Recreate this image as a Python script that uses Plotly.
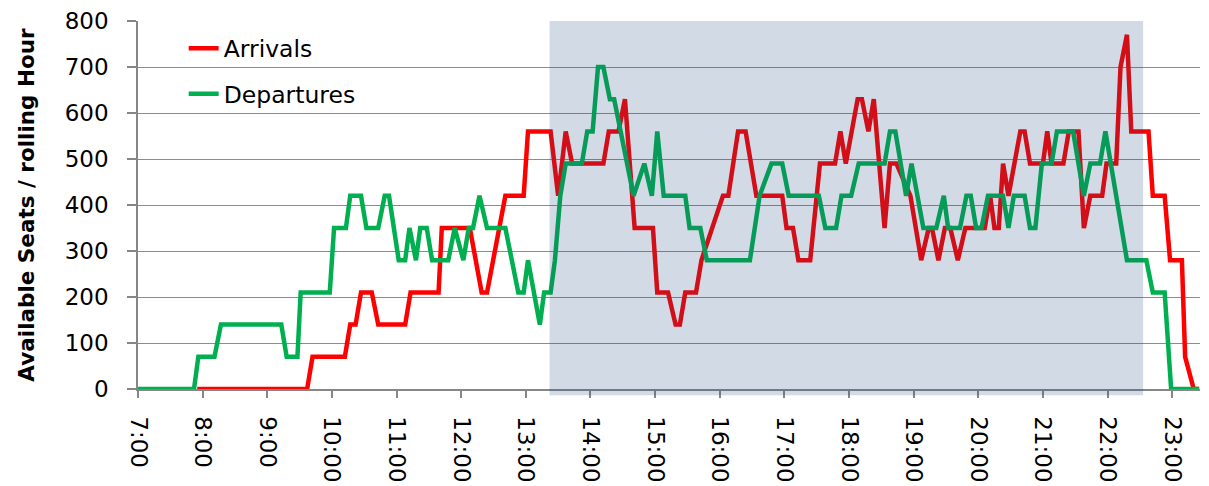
import plotly.graph_objects as go

# ---------------- data ----------------
arr_times = ["7:55", "9:37", "9:42", "10:12", "10:17", "10:22", "10:27", "10:37", "10:43", "11:08",
             "11:13", "11:39", "11:42", "12:08", "12:19", "12:24", "12:41", "12:58", "13:02", "13:23",
             "13:30", "13:37", "13:43", "14:12", "14:17", "14:26", "14:32", "14:41", "14:58", "15:02",
             "15:12", "15:19", "15:23", "15:28", "15:38", "15:43", "16:03", "16:08", "16:17", "16:24",
             "16:34", "16:58", "17:02", "17:08", "17:13", "17:24", "17:33", "17:47", "17:52", "17:57",
             "18:08", "18:12", "18:18", "18:23", "18:33", "18:38", "18:44", "18:57", "19:07", "19:14",
             "19:17", "19:23", "19:29", "19:34", "19:41", "19:48", "20:06", "20:11", "20:15", "20:19",
             "20:23", "20:28", "20:39", "20:43", "20:48", "21:00", "21:04", "21:08", "21:19", "21:24",
             "21:33", "21:38", "21:44", "21:55", "21:59", "22:08", "22:12", "22:18", "22:22", "22:38",
             "22:42", "22:53", "22:58", "23:09", "23:12", "23:20", "23:25"]
arr_values = [0, 0, 70, 70, 140, 140, 210, 210, 140, 140,
              210, 210, 350, 350, 210, 210, 420, 420, 560, 560,
              420, 560, 490, 490, 560, 560, 630, 350, 350, 210,
              210, 140, 140, 210, 210, 280, 420, 420, 560, 560,
              420, 420, 350, 350, 280, 280, 490, 490, 560, 490,
              630, 630, 560, 630, 350, 490, 490, 420, 280, 350,
              350, 280, 350, 350, 280, 350, 350, 420, 350, 350,
              490, 420, 560, 560, 490, 490, 560, 490, 490, 560,
              560, 350, 420, 420, 490, 490, 700, 770, 560, 560,
              420, 420, 280, 280, 70, 0, 0]

dep_times = ["7:00", "7:52", "7:56", "8:11", "8:17", "9:13", "9:18", "9:28", "9:31", "9:58",
             "10:02", "10:13", "10:17", "10:27", "10:32", "10:43", "10:49", "10:53", "11:02", "11:08",
             "11:12", "11:18", "11:22", "11:28", "11:33", "11:48", "11:54", "12:02", "12:07", "12:11",
             "12:17", "12:24", "12:41", "12:53", "12:58", "13:02", "13:13", "13:17", "13:23", "13:27",
             "13:32", "13:37", "13:52", "13:57", "14:02", "14:07", "14:12", "14:18", "14:22", "14:40",
             "14:50", "14:57", "15:02", "15:08", "15:28", "15:32", "15:42", "15:48", "16:28", "16:37",
             "16:48", "16:58", "17:04", "17:32", "17:38", "17:48", "17:53", "18:02", "18:09", "18:33",
             "18:38", "18:43", "18:53", "18:58", "19:09", "19:21", "19:28", "19:32", "19:43", "19:49",
             "19:53", "19:58", "20:03", "20:09", "20:23", "20:28", "20:33", "20:43", "20:48", "20:53",
             "20:59", "21:08", "21:13", "21:28", "21:38", "21:44", "21:53", "21:58", "22:18", "22:36",
             "22:42", "22:53", "22:59", "23:25"]
dep_values = [0, 0, 70, 70, 140, 140, 70, 70, 210, 210,
              350, 350, 420, 420, 350, 350, 420, 420, 280, 280,
              350, 280, 350, 350, 280, 280, 350, 280, 350, 350,
              420, 350, 350, 210, 210, 280, 140, 210, 210, 280,
              420, 490, 490, 560, 560, 700, 700, 630, 630, 420,
              490, 420, 560, 420, 420, 350, 350, 280, 280, 420,
              490, 490, 420, 420, 350, 350, 420, 420, 490, 490,
              560, 560, 420, 490, 350, 350, 420, 350, 350, 420,
              420, 350, 350, 420, 420, 350, 420, 420, 350, 350,
              490, 490, 560, 560, 420, 490, 490, 560, 280, 280,
              210, 210, 0, 0]

tick_labels = ["7:00", "8:00", "9:00", "10:00", "11:00", "12:00", "13:00", "14:00", "15:00",
               "16:00", "17:00", "18:00", "19:00", "20:00", "21:00", "22:00", "23:00"]

shade_start = "13:22"
shade_end = "22:33"


def hours(t):
    h, m = t.split(":")
    return int(h) + int(m) / 60.0


AXIS_GREY = "#868686"
GRID_GREY = "#8c8c8c"

fig = go.Figure()
fig.add_trace(go.Scatter(
    x=[hours(t) for t in arr_times], y=arr_values, mode="lines", name="Arrivals",
    legendgroup="arr", line=dict(color="#FF0000", width=4.5)))
fig.add_trace(go.Scatter(
    x=[hours(t) for t in dep_times], y=dep_values, mode="lines", name="Departures",
    legendgroup="dep", line=dict(color="#00B050", width=4.5)))

fig.add_shape(type="rect", xref="x", yref="paper",
              x0=hours(shade_start), x1=hours(shade_end), y0=-0.017, y1=1,
              fillcolor="#1F497D", opacity=0.2, line_width=0, layer="above")

# the page body adds an 8 px offset, so margins are shifted to compensate
fig.update_layout(
    width=1209, height=486,
    margin=dict(l=130, r=17, t=13, b=105, autoexpand=False),
    paper_bgcolor="white", plot_bgcolor="white",
    font=dict(family="DejaVu Sans", size=23, color="black"),
    showlegend=True,
    legend=dict(x=0.043, y=0.985, xanchor="left", yanchor="top",
                bgcolor="rgba(0,0,0,0)", tracegroupgap=12,
                font=dict(size=23.5, color="black")),
)

fig.update_xaxes(
    range=[7, 23.43], automargin=False,
    tickmode="array", tickvals=[hours(t) for t in tick_labels], ticktext=tick_labels,
    tickangle=90, showgrid=False, zeroline=False,
    showline=True, linecolor=AXIS_GREY, linewidth=1.5,
    ticks="outside", ticklen=7, tickcolor=AXIS_GREY, tickwidth=1.5,
    ticklabelstandoff=14,
    tickfont=dict(size=23),
)
fig.update_yaxes(
    range=[0, 800], dtick=100, tick0=0, automargin=False,
    showgrid=True, gridcolor=GRID_GREY, gridwidth=1.3, zeroline=False,
    showline=True, linecolor=AXIS_GREY, linewidth=1.5,
    ticks="outside", ticklen=9, tickcolor=AXIS_GREY, tickwidth=1.5,
    ticklabelstandoff=14,
    tickfont=dict(size=23),
    title=dict(text="<b>Available Seats / rolling Hour</b>",
               font=dict(size=21.5, family="DejaVu Sans"), standoff=24),
)

fig.write_html("out.html")
